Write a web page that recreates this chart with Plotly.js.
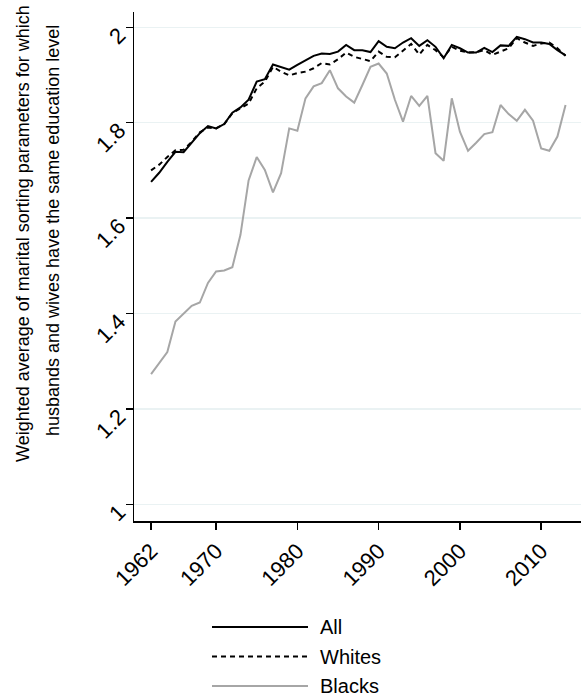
<!DOCTYPE html>
<html><head><meta charset="utf-8">
<script src="https://cdn.plot.ly/plotly-3.0.1.min.js"></script>
<style>html,body{margin:0;padding:0;background:#fff;}#chart{width:581px;height:698px;}</style>
</head><body><div id="chart"></div>
<script>
const years = [];
for (let y = 1962; y <= 2013; y++) years.push(y);

const allVals = [1.676,1.695,1.718,1.739,1.738,1.757,1.778,1.793,1.788,1.797,1.821,1.832,1.848,1.886,1.891,1.922,1.917,1.911,1.921,1.931,1.940,1.945,1.944,
1.949,1.963,1.952,1.952,1.948,1.971,1.959,1.956,1.968,1.977,1.961,1.973,1.959,1.935,1.963,1.956,1.947,1.947,1.957,1.948,1.962,1.961,1.980,1.975,1.968,1.968,1.965,1.952,1.941];

const whitesVals = [1.700,1.712,1.728,1.742,1.743,1.760,1.780,1.790,1.788,1.797,1.820,1.830,1.840,1.872,1.886,1.917,1.907,1.899,1.904,1.907,1.914,1.925,1.922,
1.933,1.947,1.938,1.933,1.929,1.949,1.938,1.937,1.952,1.965,1.943,1.963,1.952,1.937,1.959,1.951,1.947,1.948,1.952,1.942,1.949,1.956,1.977,1.968,1.961,1.966,1.968,1.956,1.940];

const blacksVals = [1.273,1.296,1.319,1.383,1.400,1.416,1.423,1.464,1.488,1.490,1.497,1.565,1.679,1.728,1.701,1.654,1.694,1.788,1.783,1.851,1.876,1.883,1.910,
1.872,1.855,1.842,1.879,1.917,1.924,1.903,1.848,1.802,1.856,1.835,1.856,1.736,1.720,1.851,1.781,1.741,1.758,1.776,1.780,1.837,1.818,1.804,1.827,1.804,1.746,1.741,1.771,1.837];

const xTicks = [1962,1970,1980,1990,2000,2010];
const yTicks = [1,1.2,1.4,1.6,1.8,2];
const yTickText = ['1','1.2','1.4','1.6','1.8','2'];
const seriesNames = ['All','Whites','Blacks'];

const FONT = 'Liberation Sans, Arial, sans-serif';
const lineStyles = [
  {color: '#000000', width: 2},
  {color: '#000000', width: 2, dash: '5px,4px'},
  {color: '#a6a6a6', width: 2}
];
const seriesVals = [allVals, whitesVals, blacksVals];

const traces = seriesNames.map((n, i) => ({
  x: years, y: seriesVals[i], name: n, type: 'scatter', mode: 'lines', line: lineStyles[i]
}));

// plot-area geometry in pixels (for placing the key below the plot)
const L = 134, T = 12, W = 447, H = 509;
const px2x = p => (p - L) / W;
const py2y = p => (T + H - p) / H;
const keyRows = [627, 656.5, 686];

const shapes = seriesNames.map((n, i) => ({
  type: 'line', xref: 'paper', yref: 'paper',
  x0: px2x(212), x1: px2x(308), y0: py2y(keyRows[i]), y1: py2y(keyRows[i]),
  line: lineStyles[i]
}));

const annotations = [
  {text: 'Weighted average of marital sorting parameters for which', xref: 'paper', yref: 'paper',
   x: px2x(23), y: py2y(234), textangle: -90, showarrow: false,
   xanchor: 'center', yanchor: 'middle', font: {family: FONT, size: 18, color: '#000'}},
  {text: 'husbands and wives have the same education level', xref: 'paper', yref: 'paper',
   x: px2x(53), y: py2y(231), textangle: -90, showarrow: false,
   xanchor: 'center', yanchor: 'middle', font: {family: FONT, size: 18, color: '#000'}}
].concat(seriesNames.map((n, i) => ({
  text: n, xref: 'paper', yref: 'paper', x: px2x(318), y: py2y(keyRows[i]),
  xanchor: 'left', yanchor: 'middle', showarrow: false,
  font: {family: FONT, size: 20, color: '#000'}
})));

const layout = {
  width: 581, height: 698,
  margin: {l: L, r: 0, t: T, b: 698 - T - H},
  paper_bgcolor: '#ffffff', plot_bgcolor: '#ffffff',
  font: {family: FONT, color: '#000000'},
  showlegend: false,
  xaxis: {range: [1959.9, 2014.9], tickvals: xTicks, ticktext: xTicks.map(String),
          tickangle: -45, tickfont: {family: FONT, size: 22, color: '#000'},
          showgrid: false, zeroline: false, showline: true, linecolor: '#000', linewidth: 1.5,
          ticks: 'outside', ticklen: 7, tickwidth: 1.5, tickcolor: '#000'},
  yaxis: {range: [0.965, 2.032], tickvals: yTicks, ticktext: yTickText,
          tickangle: -45, tickfont: {family: FONT, size: 22, color: '#000'},
          ticklabelshift: 5, ticklabelstandoff: 2,
          showgrid: true, gridcolor: '#eaf2f3', gridwidth: 1.5, zeroline: false,
          showline: true, linecolor: '#000', linewidth: 1.5,
          ticks: 'outside', ticklen: 7, tickwidth: 1.5, tickcolor: '#000'},
  shapes: shapes,
  annotations: annotations
};

Plotly.newPlot('chart', traces, layout, {displayModeBar: false, staticPlot: true});
</script>
</body></html>
